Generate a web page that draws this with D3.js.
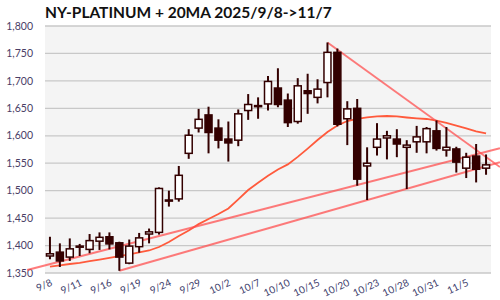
<!DOCTYPE html>
<html><head><meta charset="utf-8">
<script src="https://cdn.jsdelivr.net/npm/d3@7/dist/d3.min.js"></script>
<style>body{margin:0;background:#fff}svg{display:block}</style>
</head><body><svg id="c" width="500" height="300"></svg>
<script>
const dates = ["9/8","9/9","9/10","9/11","9/12","9/15","9/16","9/17","9/18","9/19","9/22","9/23","9/24","9/25","9/26","9/29","9/30","10/1","10/2","10/3","10/6","10/7","10/8","10/9","10/10","10/13","10/14","10/15","10/16","10/17","10/20","10/21","10/22","10/23","10/24","10/27","10/28","10/29","10/30","10/31","11/3","11/4","11/5","11/6","11/7"];
const openV  = [1381,1388,1379,1397,1393,1408,1416,1405,1368,1398,1421,1424,1483,1485,1568,1614,1638,1614,1594,1592,1646,1655,1658,1687,1665,1626,1682,1670,1697,1752,1631,1650,1545,1579,1596,1594,1579,1589,1589,1609,1574,1576,1541,1563,1541];
const highV  = [1416,1404,1413,1403,1421,1424,1424,1407,1411,1423,1431,1506,1500,1545,1612,1649,1653,1630,1626,1648,1676,1670,1709,1723,1677,1705,1713,1703,1770,1759,1663,1667,1579,1623,1609,1612,1592,1618,1616,1628,1616,1580,1569,1585,1566];
const lowV   = [1375,1361,1372,1381,1386,1392,1393,1354,1366,1387,1404,1420,1471,1480,1558,1606,1568,1577,1553,1581,1629,1631,1646,1652,1616,1622,1640,1659,1670,1617,1583,1509,1483,1564,1557,1561,1503,1569,1568,1573,1562,1533,1523,1515,1529];
const closeV = [1385,1372,1394,1399,1409,1415,1403,1379,1399,1414,1425,1504,1481,1528,1601,1630,1606,1592,1587,1640,1657,1653,1699,1657,1624,1691,1677,1685,1752,1621,1649,1521,1550,1594,1600,1585,1583,1598,1613,1577,1579,1552,1561,1539,1547];
const ma20   = [1361.5,1364,1366.4,1368.6,1371.5,1374.4,1377.7,1380.6,1384,1387.7,1391,1397.4,1406.5,1417.4,1427.4,1439,1448.4,1457.5,1467.5,1484,1501.2,1514.5,1527,1538.7,1547.9,1561.5,1576.6,1592.3,1606.9,1618.7,1626.9,1631,1633.7,1635.5,1636,1635.2,1633.3,1631.8,1630.6,1627.8,1623.6,1618.7,1613.3,1608.2,1604.4];
// trend lines: [day index, price] endpoints
const trendA = [[-2.3,1355.5],[45.4,1577.5]];
const trendB = [[7,1354],[45.4,1552]];
const trendC = [[28,1770],[45.4,1543]];
const yTicks = [1350,1400,1450,1500,1550,1600,1650,1700,1750,1800];
const xTickEvery = 3;
const title = "NY-PLATINUM + 20MA 2025/9/8->11/7";

const svg = d3.select("#c");
const L=45, R=491, T=26, B=273;
const idx = d3.range(dates.length);
const xb = d3.scaleBand().domain(idx).range([L,R]).padding(0);
const bw = xb.bandwidth();
const xc = d3.scaleLinear().domain([0, dates.length-1]).range([xb(0)+bw/2, xb(dates.length-1)+bw/2]);
const y = d3.scaleLinear().domain([1350,1800]).range([B,T]);

svg.append("rect").attr("x",L).attr("y",T).attr("width",R-L).attr("height",B-T).attr("fill","#f4f4f4");
svg.append("g").selectAll("line").data(yTicks).join("line")
  .attr("x1",L).attr("x2",R).attr("y1",d=>y(d)).attr("y2",d=>y(d))
  .attr("stroke","#c8c8c8").attr("stroke-width",1.3);

const fmt = d3.format(",");
svg.append("g").selectAll("text").data(yTicks).join("text")
  .attr("x",33).attr("y",d=>y(d)).attr("dy","0.35em").attr("text-anchor","end")
  .attr("font-family","Lato, 'Open Sans', sans-serif").attr("font-size",10.5).attr("fill","#4a3d66")
  .text(d=>fmt(d));

const xl = idx.filter(i=>i%xTickEvery===0);
svg.append("g").selectAll("text").data(xl).join("text")
  .attr("transform",i=>`translate(${xc(i)+3},${B+12}) rotate(-25)`)
  .attr("text-anchor","end")
  .attr("font-family","Lato, 'Open Sans', sans-serif").attr("font-size",10).attr("fill","#3d3d6b")
  .text(i=>dates[i]);

const line = d3.line().x(d=>xc(d[0])).y(d=>y(d[1]));
svg.append("path").datum(ma20.map((v,i)=>[i,v])).attr("d",line)
  .attr("fill","none").attr("stroke","#ff5a3c").attr("stroke-width",1.8);
[trendA,trendB,trendC].forEach(t=>{
  svg.append("path").datum(t).attr("d",line).attr("fill","none")
    .attr("stroke","#ff5050").attr("stroke-opacity",0.75).attr("stroke-width",2);
});

const col = "#330000";
const cg = svg.append("g");
cg.selectAll("line").data(idx).join("line")
  .attr("x1",i=>xc(i)).attr("x2",i=>xc(i)).attr("y1",i=>y(highV[i])).attr("y2",i=>y(lowV[i]))
  .attr("stroke",col).attr("stroke-width",2);
const bodyW = 7;
cg.selectAll("rect").data(idx).join("rect")
  .attr("x",i=>xc(i)-bodyW/2).attr("width",bodyW)
  .attr("y",i=>y(Math.max(openV[i],closeV[i])))
  .attr("height",i=>Math.max(1,Math.abs(y(openV[i])-y(closeV[i]))))
  .attr("fill",i=>closeV[i]>=openV[i]?"#ffffff":col)
  .attr("stroke",col).attr("stroke-width",1.5);

svg.append("text").attr("x",45).attr("y",18)
  .attr("font-family","Lato, 'Open Sans', sans-serif").attr("font-weight","bold").attr("font-size",15.5)
  .attr("fill","#111").text(title);
</script></body></html>
